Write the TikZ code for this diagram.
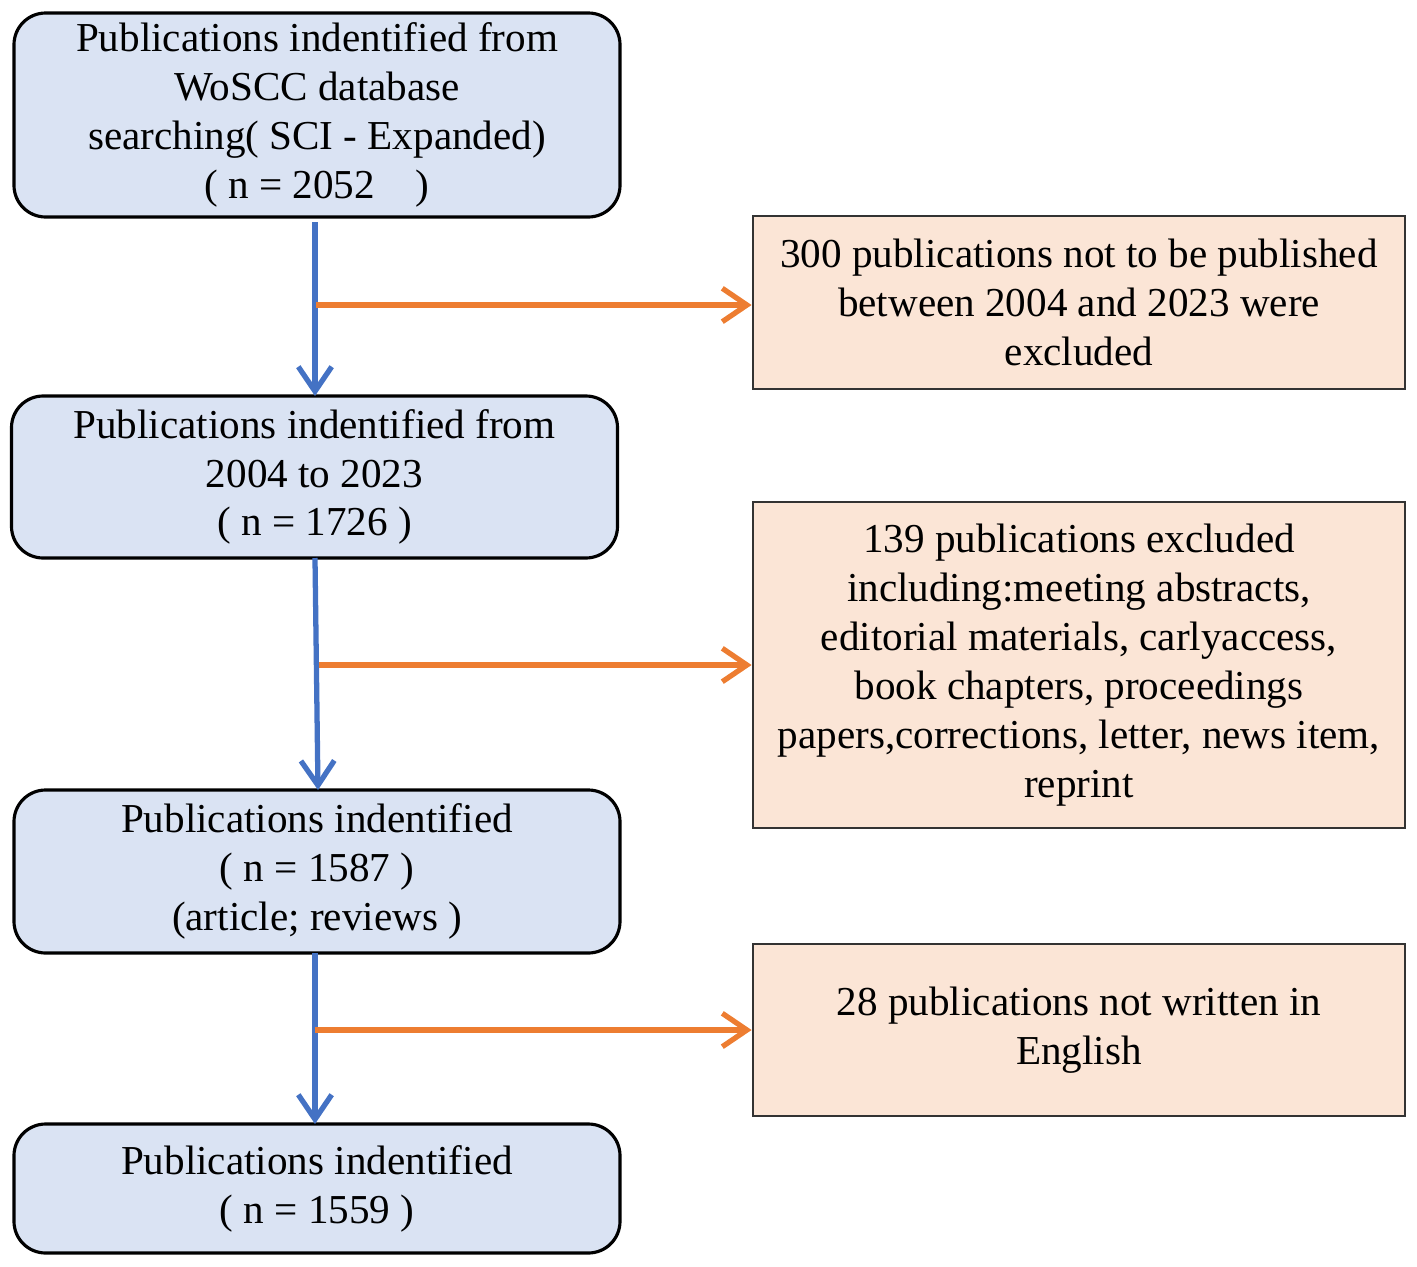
\documentclass[tikz,border=0pt]{standalone}
\usepackage{fontspec}
\setmainfont{Liberation Serif}
\usetikzlibrary{arrows.meta}
\usetikzlibrary{positioning}

\definecolor{stepblue}{HTML}{DAE3F3}
\definecolor{linkblue}{HTML}{4472C4}
\definecolor{exfill}{HTML}{FBE5D6}
\definecolor{exline}{HTML}{ED7D31}

\tikzset{
  stagebox/.style={draw=black,line width=0.9pt,fill=stepblue,rounded corners=9pt,
    minimum width=6.06cm,align=center,inner sep=0pt,
    font=\fontsize{11.7}{13.9}\selectfont},
  exclbox/.style={draw=black!80,line width=0.8pt,fill=exfill,
    minimum width=6.52cm,align=center,inner sep=0pt,
    font=\fontsize{11.7}{13.9}\selectfont},
  downarrow/.style={draw=linkblue,line width=1.5pt,-{Straight Barb[length=7pt,width=9.5pt,line width=1.5pt]}},
  outarrow/.style={draw=exline,line width=1.5pt,-{Straight Barb[length=7pt,width=9.5pt,line width=1.5pt]}}
}

\begin{document}
\begin{tikzpicture}
\useasboundingbox (0,0) rectangle (14.17,-12.67);
% main stages
\node[stagebox,minimum height=2.04cm] (search) at (3.17,-1.15)
  {Publications indentified from\\WoSCC database\\searching( SCI - Expanded)\\( n = 2052\quad )};
\node[stagebox,minimum height=1.62cm] (period) at (3.145,-4.77)
  {Publications indentified from\\2004 to 2023\\( n = 1726 )};
\node[stagebox,minimum height=1.63cm] (types) at (3.17,-8.715)
  {Publications indentified\\( n = 1587 )\\(article; reviews )};
\node[stagebox,minimum height=1.29cm] (final) at (3.17,-11.885)
  {Publications indentified\\( n = 1559 )};
% exclusions
\node[exclbox,minimum height=1.73cm] (excl1) at (10.79,-3.025)
  {300 publications not to be published\\between 2004 and 2023 were\\excluded};
\node[exclbox,minimum height=3.26cm] (excl2) at (10.79,-6.65)
  {139 publications excluded\\including:meeting abstracts,\\editorial materials, carlyaccess,\\book chapters, proceedings\\papers,corrections, letter, news item,\\reprint};
\node[exclbox,minimum height=1.72cm] (excl3) at (10.79,-10.30)
  {28 publications not written in\\English};
% branch points
\coordinate (b1) at (3.16,-3.05);
\coordinate (b2) at (3.19,-6.65);
\coordinate (b3) at (3.15,-10.30);
% connectors
\draw[downarrow] (3.15,-2.22) -- (3.15,-3.96);
\draw[downarrow] (3.15,-5.58) -- (3.18,-7.90);
\draw[downarrow] (3.15,-9.53) -- (3.15,-11.24);
\draw[outarrow] (b1) -- (b1 -| excl1.west);
\draw[outarrow] (b2) -- (b2 -| excl2.west);
\draw[outarrow] (b3) -- (b3 -| excl3.west);
\end{tikzpicture}
\end{document}
